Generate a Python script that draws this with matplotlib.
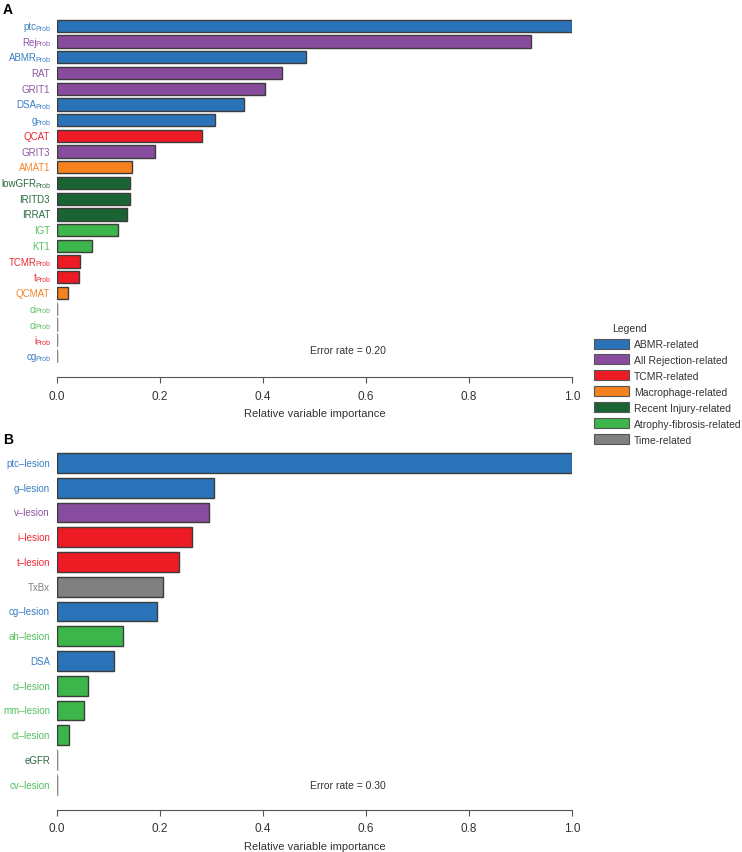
import matplotlib
matplotlib.use("Agg")
import matplotlib.pyplot as plt
import matplotlib.transforms as mtransforms
from matplotlib.patches import Patch

plt.rcParams['font.family'] = ['Liberation Sans', 'DejaVu Sans']

colors = {
    'ABMR-related': '#2a73b9',
    'All Rejection-related': '#874c9d',
    'TCMR-related': '#ed1c24',
    'Macrophage-related': '#f5821f',
    'Recent Injury-related': '#1a6434',
    'Atrophy-fibrosis-related': '#3cb54a',
    'Time-related': '#808080',
}
label_colors = {
    'ABMR-related': '#3a7fc4',
    'All Rejection-related': '#8e56a6',
    'TCMR-related': '#ee2a32',
    'Macrophage-related': '#f5842a',
    'Recent Injury-related': '#2a6a40',
    'Atrophy-fibrosis-related': '#55c060',
    'Time-related': '#808080',
}

# panel A (second list = subscript, '' when none)
a_labels = ['ptc', 'Rej', 'ABMR', 'RAT', 'GRIT1', 'DSA', 'g', 'QCAT', 'GRIT3', 'AMAT1',
            'lowGFR', 'IRITD3', 'IRRAT', 'IGT', 'KT1', 'TCMR', 't', 'QCMAT', 'ci', 'ci', 'i', 'cg']
a_subs = ['Prob', 'Prob', 'Prob', '', '', 'Prob', 'Prob', '', '', '', 'Prob', '', '', '', '',
          'Prob', 'Prob', '', 'Prob', 'Prob', 'Prob', 'Prob']
a_values = [1.0, 0.920, 0.484, 0.437, 0.404, 0.364, 0.306, 0.282, 0.190, 0.145, 0.142,
            0.141, 0.136, 0.118, 0.068, 0.045, 0.043, 0.021, 0.0, 0.0, 0.0, 0.0]
a_groups = ['ABMR-related', 'All Rejection-related', 'ABMR-related', 'All Rejection-related',
            'All Rejection-related', 'ABMR-related', 'ABMR-related', 'TCMR-related',
            'All Rejection-related', 'Macrophage-related', 'Recent Injury-related',
            'Recent Injury-related', 'Recent Injury-related', 'Atrophy-fibrosis-related',
            'Atrophy-fibrosis-related', 'TCMR-related', 'TCMR-related', 'Macrophage-related',
            'Atrophy-fibrosis-related', 'Atrophy-fibrosis-related', 'TCMR-related', 'ABMR-related']
a_error = 'Error rate = 0.20'

# panel B
b_labels = ['ptc\u2013lesion', 'g\u2013lesion', 'v\u2013lesion', 'i\u2013lesion', 't\u2013lesion',
            'TxBx', 'cg\u2013lesion', 'ah\u2013lesion', 'DSA', 'ci\u2013lesion', 'mm\u2013lesion',
            'ct\u2013lesion', 'eGFR', 'cv\u2013lesion']
b_subs = [''] * len(b_labels)
b_values = [1.0, 0.305, 0.295, 0.263, 0.236, 0.206, 0.195, 0.129, 0.111, 0.060, 0.052,
            0.023, 0.0, 0.0]
b_groups = ['ABMR-related', 'ABMR-related', 'All Rejection-related', 'TCMR-related',
            'TCMR-related', 'Time-related', 'ABMR-related', 'Atrophy-fibrosis-related',
            'ABMR-related', 'Atrophy-fibrosis-related', 'Atrophy-fibrosis-related',
            'Atrophy-fibrosis-related', 'Recent Injury-related', 'Atrophy-fibrosis-related']
b_error = 'Error rate = 0.30'

W, H = 742, 853
fig = plt.figure(figsize=(W / 100, H / 100), dpi=100)
renderer = fig.canvas.get_renderer()

def px_axes(x0, y_top, x1, y_bot):
    return fig.add_axes([x0 / W, 1 - y_bot / H, (x1 - x0) / W, (y_bot - y_top) / H])

def draw_labels(ax, labels, subs, groups, pad=7):
    base = ax.get_yaxis_transform()
    for y, (lab, sub, g) in enumerate(zip(labels, subs, groups)):
        c = label_colors[g]
        shift = pad
        if sub:
            tr = mtransforms.offset_copy(base, fig, x=-pad, y=-2.2, units='dots')
            st = ax.text(0, y, sub, fontsize=5, color=c, ha='right', va='center',
                         transform=tr, clip_on=False)
            shift += st.get_window_extent(renderer).width - 1.5
        tr = mtransforms.offset_copy(base, fig, x=-shift, y=0, units='dots')
        ax.text(0, y, lab, fontsize=7, color=c, ha='right', va='center',
                transform=tr, clip_on=False)

def draw_panel(ax, labels, subs, values, groups, err, bar_h, extra, err_row):
    n = len(values)
    ys = list(range(n))
    ax.barh(ys, values, height=bar_h, color=[colors[g] for g in groups],
            edgecolor='#3c3c3c', linewidth=1.0)
    for y, v in zip(ys, values):
        if v == 0:
            ax.plot([0, 0], [y - bar_h / 2, y + bar_h / 2], color='#9a9a9a', lw=1.2)
    ax.set_xlim(0, 1.0)
    ax.set_ylim(n - 1 + extra, -0.5)
    ax.set_yticks([])
    draw_labels(ax, labels, subs, groups)
    ax.set_xticks([0, 0.2, 0.4, 0.6, 0.8, 1.0])
    ax.set_xticklabels(['0.0', '0.2', '0.4', '0.6', '0.8', '1.0'])
    ax.tick_params(axis='x', length=4, width=0.8, color='#555555', labelsize=8.5,
                   labelcolor='#333333', pad=5)
    for s in ['top', 'right', 'left']:
        ax.spines[s].set_visible(False)
    ax.spines['bottom'].set_color('#555555')
    ax.spines['bottom'].set_linewidth(0.8)
    ax.spines['bottom'].set_bounds(0, 1)
    ax.set_xlabel('Relative variable importance', fontsize=8, color='#333333', labelpad=5)
    ax.text(0.565, err_row, err, fontsize=7.5, color='#333333', ha='center', va='center')

axA = px_axes(57, 19, 572, 378)
draw_panel(axA, a_labels, a_subs, a_values, a_groups, a_error, 0.78, 1.34, 20.6)
axB = px_axes(57, 451.6, 572, 810.7)
draw_panel(axB, b_labels, b_subs, b_values, b_groups, b_error, 0.8, 1.01, 13)

fig.text(3 / W, 1 - 10 / H, 'A', fontsize=10, fontweight='bold', va='center')
fig.text(3 / W, 1 - 440 / H, 'B', fontsize=10, fontweight='bold', va='center')

# legend
fig.text(612 / W, 1 - 329 / H, 'Legend', fontsize=7.5, color='#333333', va='center')
handles = [Patch(facecolor=c, edgecolor='#555555', linewidth=0.8) for c in colors.values()]
fig.legend(handles, list(colors.keys()), loc='upper left',
           bbox_to_anchor=(594 / W, 1 - 339.5 / H), frameon=False, fontsize=7.5,
           handlelength=3.4, handleheight=1.1, handletextpad=0.45, labelspacing=0.52,
           borderpad=0, borderaxespad=0, labelcolor='#333333')

fig.savefig('out.png', dpi=100)
